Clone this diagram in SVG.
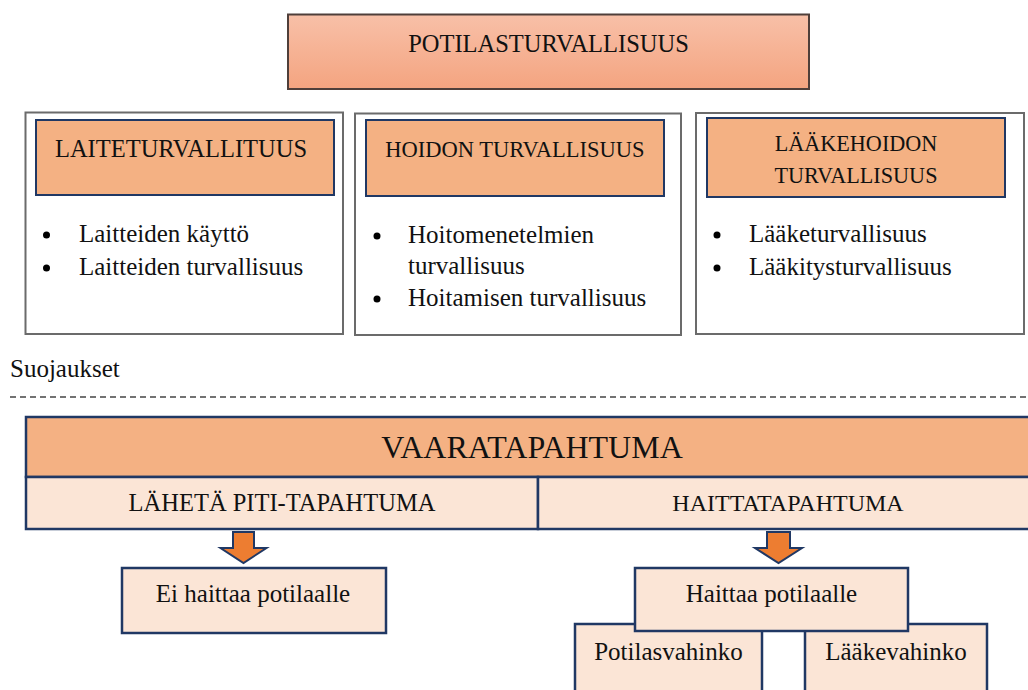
<svg xmlns="http://www.w3.org/2000/svg" width="1028" height="690" viewBox="0 0 1028 690" font-family="'Liberation Serif', 'Times New Roman', 'DejaVu Serif', serif">
<defs>
<linearGradient id="topg" x1="0" y1="0" x2="0" y2="1">
<stop offset="0" stop-color="#F8C0A8"/>
<stop offset="1" stop-color="#F4A480"/>
</linearGradient>
</defs>
<style>
text{font-family:'Liberation Serif','Times New Roman','DejaVu Serif',serif;fill:#111}
.outer{fill:#fff;stroke:#6b6b6b;stroke-width:2}
.hdr{fill:#F4B183;stroke:#203864;stroke-width:2}
.lt{fill:#FBE5D6;stroke:#203864;stroke-width:2.5}
.arrow{fill:#ED7D31;stroke:#203864;stroke-width:2;stroke-linejoin:miter}
.c{text-anchor:middle}
.b{font-size:25px}
</style>
<rect width="1028" height="690" fill="#fff"/>

<g id="potilasturvallisuus">
<rect x="288" y="14.5" width="521" height="74.5" fill="url(#topg)" stroke="#4f3f3a" stroke-width="2"/>
<text x="548.5" y="52" class="c" font-size="24.5">POTILASTURVALLISUUS</text>
</g>

<g id="laiteturvallisuus">
<rect class="outer" x="25.5" y="112.5" width="317.5" height="221.5"/>
<rect class="hdr" x="36" y="120" width="298" height="75"/>
<text x="181" y="157" class="c" font-size="24.5">LAITETURVALLITUUS</text>
<circle cx="46.5" cy="235" r="3.5" fill="#000"/>
<text x="79" y="242" class="b">Laitteiden käyttö</text>
<circle cx="46.5" cy="268" r="3.5" fill="#000"/>
<text x="79" y="275" class="b">Laitteiden turvallisuus</text>
</g>

<g id="hoidon-turvallisuus">
<rect class="outer" x="355" y="113.5" width="326" height="221.5"/>
<rect class="hdr" x="366" y="120" width="298" height="76"/>
<text x="515" y="157" class="c" font-size="22.5">HOIDON TURVALLISUUS</text>
<circle cx="377" cy="236" r="3.5" fill="#000"/>
<text x="408" y="243" class="b">Hoitomenetelmien</text>
<text x="408" y="274" class="b">turvallisuus</text>
<circle cx="377" cy="299" r="3.5" fill="#000"/>
<text x="408" y="306" class="b">Hoitamisen turvallisuus</text>
</g>

<g id="laakehoidon-turvallisuus">
<rect class="outer" x="696" y="113" width="328" height="221"/>
<rect class="hdr" x="707" y="118" width="298" height="79"/>
<text x="856" y="151" class="c" font-size="22.2">LÄÄKEHOIDON</text>
<text x="856" y="183" class="c" font-size="22.2">TURVALLISUUS</text>
<circle cx="717" cy="235" r="3.5" fill="#000"/>
<text x="749" y="242" class="b">Lääketurvallisuus</text>
<circle cx="717" cy="268" r="3.5" fill="#000"/>
<text x="749" y="275" class="b">Lääkitysturvallisuus</text>
</g>

<g id="suojaukset">
<text x="10" y="377" class="b">Suojaukset</text>
<line x1="10" y1="397" x2="1028" y2="397" stroke="#444" stroke-width="1.5" stroke-dasharray="6,4"/>
</g>

<g id="vaaratapahtuma">
<rect x="26" y="417" width="1012" height="60" fill="#F4B183" stroke="#203864" stroke-width="2.5"/>
<text x="532" y="458" class="c" font-size="32">VAARATAPAHTUMA</text>
</g>

<g id="laheta-piti-tapahtuma">
<rect class="lt" x="26" y="477" width="512" height="52"/>
<text x="282" y="511" class="c" font-size="24.5">LÄHETÄ PITI-TAPAHTUMA</text>
</g>

<g id="haittatapahtuma">
<rect class="lt" x="538" y="477" width="500" height="52"/>
<text x="788" y="511" class="c" font-size="24">HAITTATAPAHTUMA</text>
</g>

<g id="connectors">
<polygon class="arrow" points="233,532 254,532 254,548 266.5,548 243.5,563 220.5,548 233,548"/>
<polygon class="arrow" points="767,532 790,532 790,548 802,548 778.5,563 755,548 767,548"/>
</g>

<g id="ei-haittaa">
<rect class="lt" x="122" y="568" width="264" height="65"/>
<text x="253" y="602" class="c b">Ei haittaa potilaalle</text>
</g>

<g id="potilasvahinko">
<rect class="lt" x="575" y="624" width="187" height="80"/>
<text x="668.5" y="660" class="c b">Potilasvahinko</text>
</g>

<g id="laakevahinko">
<rect class="lt" x="805" y="624" width="182" height="80"/>
<text x="896" y="660" class="c b">Lääkevahinko</text>
</g>

<g id="haittaa-potilaalle">
<rect class="lt" x="635" y="568" width="273" height="63"/>
<text x="771.5" y="602" class="c b">Haittaa potilaalle</text>
</g>
</svg>
